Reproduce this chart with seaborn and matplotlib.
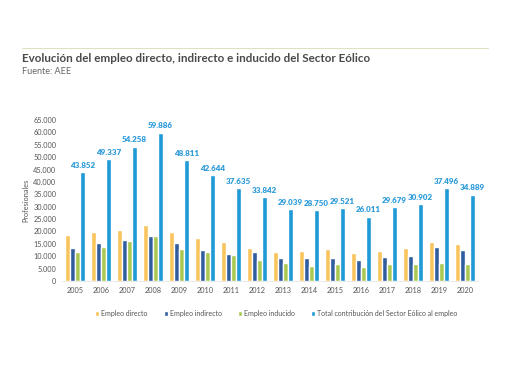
import pandas as pd
import numpy as np
import matplotlib
matplotlib.use('Agg')
from matplotlib import pyplot as plt
import seaborn as sns

years = [str(y) for y in range(2005, 2021)]
directo = [18500, 19700, 20600, 22750, 19700, 17500, 15600, 13200, 11850, 12100, 12800, 11300, 12250, 13300, 15900, 14950]
indirecto = [13450, 15350, 16700, 18300, 15500, 12500, 11050, 11600, 9300, 9300, 9300, 8500, 9700, 10250, 13750, 12400]
inducido = [11700, 13750, 16150, 18300, 12950, 11700, 10350, 8500, 7150, 6200, 7000, 5500, 7000, 6850, 7400, 7000]
total = [43852, 49337, 54258, 59886, 48811, 42644, 37635, 33842, 29039, 28750, 29521, 26011, 29679, 30902, 37496, 34889]

series = ['Empleo directo', 'Empleo indirecto', 'Empleo inducido',
          'Total contribución del Sector Eólico al empleo']
colors = ['#F9C45C', '#2F5D9E', '#A9C850', '#1F9AD7']

df = pd.DataFrame({'year': years * 4,
                   'serie': np.repeat(series, len(years)),
                   'value': directo + indirecto + inducido + total})

sns.set_theme(style='white')
plt.rcParams['font.family'] = ['Lato', 'DejaVu Sans']

fig = plt.figure(figsize=(5.1, 3.82), dpi=100)
ax = fig.add_axes([62/510, 1-281/382, 416/510, 161/382])

sns.barplot(data=df, x='year', y='value', hue='serie', hue_order=series,
            palette=colors, saturation=1, width=0.74, gap=0.03, ax=ax, legend=True)

for i, v in enumerate(total):
    ax.text(i + 0.2775, v + 1300, '{:,}'.format(v).replace(',', '.'),
            ha='center', va='bottom', fontsize=5.8, fontweight='heavy', color='#2F9CDA')

ax.set_xlim(-0.5, 15.5)
ax.set_ylim(0, 65000)
ax.set_yticks(range(0, 65001, 5000))
ax.set_yticklabels(['{:,}'.format(t).replace(',', '.') for t in range(0, 65001, 5000)])
ax.tick_params(axis='both', labelsize=5.3, colors='#555555', length=0, pad=4)
ax.set_xlabel('')
ax.set_ylabel('Profesionales', fontsize=5.3, color='#555555', labelpad=3)
for s in ['top', 'right', 'left']:
    ax.spines[s].set_visible(False)
ax.spines['bottom'].set_color('#E6E6E6')
ax.spines['bottom'].set_linewidth(0.6)

handles, labels = ax.get_legend_handles_labels()
ax.legend(handles, labels, loc='upper center', bbox_to_anchor=(0.515, -0.14), ncol=4,
          frameon=False, fontsize=5.0, handlelength=0.6, handleheight=0.6,
          handletextpad=0.3, columnspacing=2.3, labelcolor='#555555')

fig.add_artist(plt.Line2D([22/510, 488/510], [1-48/382, 1-48/382], color='#DDE3C2', lw=0.8))
fig.text(22/510, 1-58/382, 'Evolución del empleo directo, indirecto e inducido del Sector Eólico',
         fontsize=8.4, fontweight='bold', color='#4A4A4A', va='center')
fig.text(22/510, 1-71/382, 'Fuente: AEE', fontsize=6.5, color='#666666', va='center')

fig.savefig('out.png', dpi=100)
